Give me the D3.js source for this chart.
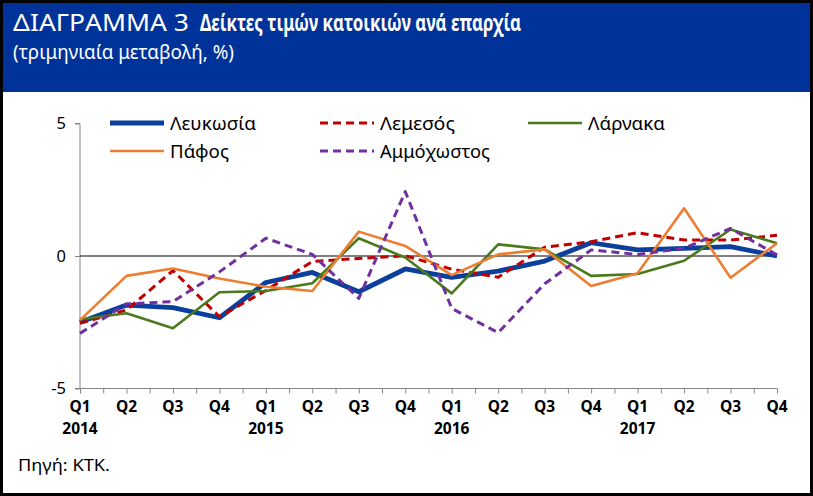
<!DOCTYPE html>
<html>
<head>
<meta charset="utf-8">
<script src="https://cdn.jsdelivr.net/npm/d3@7"></script>
<style>
html,body{margin:0;padding:0;background:#000;}
svg{display:block;}
text{font-family:"Noto Sans","Open Sans",sans-serif;}
</style>
</head>
<body>
<svg id="chart" width="813" height="496"></svg>
<script>
const quarters = ["Q1","Q2","Q3","Q4","Q1","Q2","Q3","Q4","Q1","Q2","Q3","Q4","Q1","Q2","Q3","Q4"];
const years = ["2014","","","","2015","","","","2016","","","","2017","","",""];
const lefkosia   = [-2.50,-1.85,-1.95,-2.33,-1.00,-0.62,-1.35,-0.49,-0.81,-0.57,-0.19,0.50,0.23,0.29,0.35,0.00];
const lemesos    = [-2.54,-2.04,-0.55,-2.29,-1.30,-0.21,-0.09,0.01,-0.50,-0.80,0.33,0.54,0.88,0.60,0.60,0.78];
const larnaka    = [-2.39,-2.16,-2.73,-1.37,-1.32,-1.03,0.67,-0.06,-1.41,0.44,0.25,-0.75,-0.68,-0.18,1.00,0.48];
const pafos      = [-2.42,-0.75,-0.47,-0.85,-1.16,-1.32,0.92,0.38,-0.72,0.06,0.25,-1.13,-0.65,1.80,-0.82,0.48];
const ammochostos= [-2.92,-1.81,-1.72,-0.60,0.67,0.06,-1.60,2.43,-1.98,-2.89,-1.05,0.23,0.06,0.29,1.04,0.04];
const yTicks = [-5,0,5];
const seriesNames = ["Λευκωσία","Λεμεσός","Λάρνακα","Πάφος","Αμμόχωστος"];

const series = [
  {name:seriesNames[0], values:lefkosia, color:"#0A3F9C", width:4.8, dash:null},
  {name:seriesNames[1], values:lemesos, color:"#C00000", width:3, dash:"8,5"},
  {name:seriesNames[2], values:larnaka, color:"#4A7A1C", width:2.6, dash:null},
  {name:seriesNames[3], values:pafos, color:"#ED7D31", width:2.6, dash:null},
  {name:seriesNames[4], values:ammochostos, color:"#7030A0", width:3, dash:"8,5"}
];

const svg = d3.select("#chart");
// outer frame
svg.append("rect").attr("x",3).attr("y",3).attr("width",807).attr("height",490).attr("fill","#fff");
// header
svg.append("rect").attr("x",3).attr("y",3).attr("width",807).attr("height",89).attr("fill","#003399");
svg.append("text").attr("x",13).attr("y",31).attr("fill","#fff").attr("font-size",23)
  .attr("textLength",176).attr("lengthAdjust","spacingAndGlyphs")
  .text("ΔΙΑΓΡΑΜΜΑ 3");
svg.append("text").attr("x",200).attr("y",31).attr("fill","#fff").attr("font-size",23)
  .attr("font-weight","bold")
  .attr("textLength",321).attr("lengthAdjust","spacingAndGlyphs")
  .text("Δείκτες τιμών κατοικιών ανά επαρχία");
svg.append("text").attr("x",13).attr("y",59).attr("fill","#fff").attr("font-size",20)
  .attr("textLength",221).attr("lengthAdjust","spacingAndGlyphs")
  .text("(τριμηνιαία μεταβολή, %)");

const x = d3.scaleLinear().domain([0, quarters.length-1]).range([80, 777]);
const y = d3.scaleLinear().domain([-5,5]).range([388.5,123.5]);

// y axis
const yAxis = d3.axisLeft(y).tickValues(yTicks).tickSize(5).tickPadding(9);
const gy = svg.append("g").attr("transform","translate(80,0)").call(yAxis);
gy.select(".domain").attr("stroke","#868686").attr("d","M-5,123.5H0V388.5H-5");
gy.selectAll(".tick line").attr("stroke","#868686");
gy.selectAll(".tick text").attr("font-size",16.5).attr("fill","#000")
  .attr("font-family","'Noto Sans',sans-serif").text(d=>d);

// x axis with half-category ticks
const halfTicks = d3.range(0, quarters.length-0.5, 0.5);
const xAxis = d3.axisBottom(x).tickValues(halfTicks).tickSize(5).tickFormat("");
const gx = svg.append("g").attr("transform","translate(0,388.5)").call(xAxis);
gx.select(".domain").attr("stroke","#868686").attr("d","M80,0H777");
gx.selectAll(".tick line").attr("stroke","#868686");

// zero line
svg.append("line").attr("x1",80).attr("x2",777).attr("y1",y(0)).attr("y2",y(0)).attr("stroke","#000").attr("stroke-width",1.2);

// category labels
svg.append("g").selectAll("text").data(quarters).join("text")
  .attr("x",(d,i)=>x(i)).attr("y",412).attr("text-anchor","middle")
  .attr("font-size",15.5).attr("font-weight","bold").attr("fill","#000").text(d=>d);
svg.append("g").selectAll("text").data(years).join("text")
  .attr("x",(d,i)=>x(i)).attr("y",434).attr("text-anchor","middle")
  .attr("font-size",15.5).attr("font-weight","bold").attr("fill","#000").text(d=>d);

// lines
const line = d3.line().x((d,i)=>x(i)).y(d=>y(d));
series.forEach(s=>{
  svg.append("path").datum(s.values).attr("d",line).attr("fill","none")
    .attr("stroke",s.color).attr("stroke-width",s.width)
    .attr("stroke-linejoin","round")
    .attr("stroke-dasharray",s.dash);
});

// legend
const legendPos = [[110,123],[320,123],[528,123],[110,151],[320,151]];
const legendLen = [86,75,77,59,110];
series.forEach((s,i)=>{
  const [lx,ly] = legendPos[i];
  svg.append("line").attr("x1",lx).attr("x2",lx+54).attr("y1",ly).attr("y2",ly)
    .attr("stroke",s.color).attr("stroke-width",s.width)
    .attr("stroke-dasharray",s.dash);
  svg.append("text").attr("x",lx+60).attr("y",ly+7).attr("font-size",17.5).attr("fill","#000")
    .attr("textLength",legendLen[i]).attr("lengthAdjust","spacingAndGlyphs")
    .text(s.name);
});

// source
svg.append("text").attr("x",18).attr("y",471).attr("font-size",17).attr("fill","#000")
  .attr("textLength",92).attr("lengthAdjust","spacingAndGlyphs")
  .text("Πηγή: ΚΤΚ.");
</script>
</body>
</html>
